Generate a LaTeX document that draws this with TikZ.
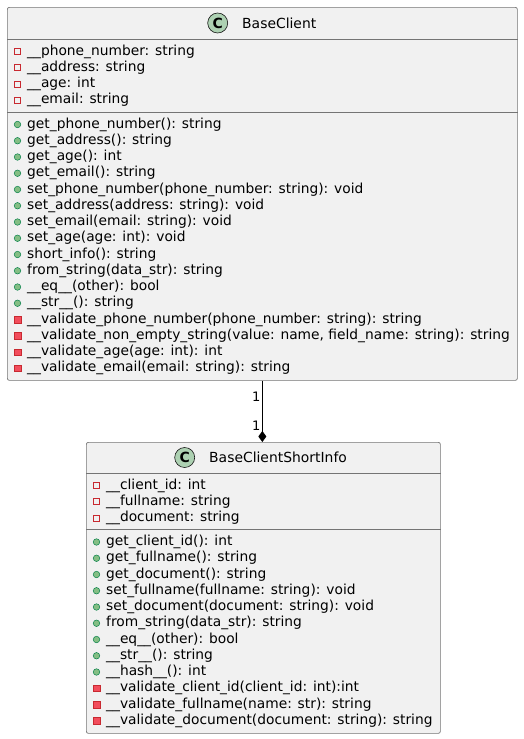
\documentclass[tikz,border=0pt]{standalone}
\usepackage{fontspec}
\setmainfont{DejaVu Sans}
\usetikzlibrary{positioning,arrows.meta}
\definecolor{boxfill}{HTML}{F1F1F1}
\definecolor{boxline}{HTML}{181818}
\definecolor{spotfill}{HTML}{ADD1B2}
\definecolor{privline}{HTML}{C82930}
\definecolor{privfill}{HTML}{F24D5C}
\definecolor{publine}{HTML}{038048}
\definecolor{pubfill}{HTML}{84BE84}
\tikzset{
    classbox/.style={rectangle, rounded corners=2pt, draw=boxline!60, fill=boxfill, line width=0.7pt, anchor=north west, inner sep=0pt},
    sep/.style={draw=boxline!60, line width=0.7pt},
    spot/.style={circle, draw=boxline, fill=spotfill, line width=0.6pt, minimum size=20pt, inner sep=0pt, font=\bfseries\fontsize{14}{14}\selectfont},
    title/.style={anchor=west, inner sep=0pt, text height=10.2pt, text depth=0pt, font=\fontsize{13.9}{16}\selectfont},
    member/.style={anchor=west, inner sep=0pt, text height=10.5pt, text depth=3.5pt, font=\fontsize{13.8}{16}\selectfont},
    privfield/.style={rectangle, draw=privline, fill=none, line width=0.7pt, minimum size=6pt, inner sep=0pt},
    privmeth/.style={rectangle, draw=privline, fill=privfill, line width=0.5pt, minimum size=6.5pt, inner sep=0pt},
    pubmeth/.style={circle, draw=publine, fill=pubfill, line width=0.5pt, minimum size=6.5pt, inner sep=0pt},
    mult/.style={inner sep=0pt, font=\fontsize{13}{13}\selectfont},
    comp/.style={-{Diamond[length=11pt,width=8pt]}, line width=0.8pt}
    }

\begin{document}
\begin{tikzpicture}[x=1pt,y=-1pt]
    \useasboundingbox (0,0) rectangle (524,739);
    % class boxes
    \node[classbox, minimum width=510pt, minimum height=373pt] (base) at (7,7) {};
    \node[classbox, minimum width=354pt, minimum height=291pt] (info) at (86,442) {};
    \draw[sep] ([yshift=-32pt]base.north west) -- ([yshift=-32pt]base.north east);
    \draw[sep] ([yshift=-105pt]base.north west) -- ([yshift=-105pt]base.north east);
    \draw[sep] ([yshift=-31pt]info.north west) -- ([yshift=-31pt]info.north east);
    \draw[sep] ([yshift=-87.5pt]info.north west) -- ([yshift=-87.5pt]info.north east);

    % headers
    \node[title] (baseT) at (242,23) {BaseClient};
    \node[spot, left=14pt of baseT] (baseC) {C};
    \node[title] (infoT) at (209,457.5) {BaseClientShortInfo};
    \node[spot, left=14pt of infoT] (infoC) {C};

    % BaseClient fields
    \foreach \txt [count=\i from 0] in {\_\_phone\_number: string, \_\_address: string, \_\_age: int, \_\_email: string}{
        \node[privfield] (baseFi\i) at (17.5,51.5+16.2*\i) {};
        \node[member] (baseF\i) at (27,51.5+16.2*\i) {\txt};
    }
    % BaseClient methods
    \foreach \kind/\txt [count=\i from 0] in {
        pubmeth/{get\_phone\_number(): string},
        pubmeth/{get\_address(): string},
        pubmeth/{get\_age(): int},
        pubmeth/{get\_email(): string},
        pubmeth/{set\_phone\_number(phone\_number: string): void},
        pubmeth/{set\_address(address: string): void},
        pubmeth/{set\_email(email: string): void},
        pubmeth/{set\_age(age: int): void},
        pubmeth/{short\_info(): string},
        pubmeth/{from\_string(data\_str): string},
        pubmeth/{\_\_eq\_\_(other): bool},
        pubmeth/{\_\_str\_\_(): string},
        privmeth/{\_\_validate\_phone\_number(phone\_number: string): string},
        privmeth/{\_\_validate\_non\_empty\_string(value: name, field\_name: string): string},
        privmeth/{\_\_validate\_age(age: int): int},
        privmeth/{\_\_validate\_email(email: string): string}}{
        \node[\kind] (baseMi\i) at (17.5,124.5+16.25*\i) {};
        \node[member] (baseM\i) at (27,124.5+16.25*\i) {\txt};
    }

    % BaseClientShortInfo fields
    \foreach \txt [count=\i from 0] in {\_\_client\_id: int, \_\_fullname: string, \_\_document: string}{
        \node[privfield] (infoFi\i) at (96.5,485.5+16.2*\i) {};
        \node[member] (infoF\i) at (106,485.5+16.2*\i) {\txt};
    }
    % BaseClientShortInfo methods
    \foreach \kind/\txt [count=\i from 0] in {
        pubmeth/{get\_client\_id(): int},
        pubmeth/{get\_fullname(): string},
        pubmeth/{get\_document(): string},
        pubmeth/{set\_fullname(fullname: string): void},
        pubmeth/{set\_document(document: string): void},
        pubmeth/{from\_string(data\_str): string},
        pubmeth/{\_\_eq\_\_(other): bool},
        pubmeth/{\_\_str\_\_(): string},
        pubmeth/{\_\_hash\_\_(): int},
        privmeth/{\_\_validate\_client\_id(client\_id: int):int},
        privmeth/{\_\_validate\_fullname(name: str): string},
        privmeth/{\_\_validate\_document(document: string): string}}{
        \node[\kind] (infoMi\i) at (96.5,542+16.25*\i) {};
        \node[member] (infoM\i) at (106,542+16.25*\i) {\txt};
    }

    % composition
    \draw[comp] (base.south) -- (base.south |- info.north)
        node[mult, pos=0.27, left=1.5pt] (m1) {1}
        node[mult, pos=0.73, left=1.5pt] (m2) {1};
\end{tikzpicture}
\end{document}
